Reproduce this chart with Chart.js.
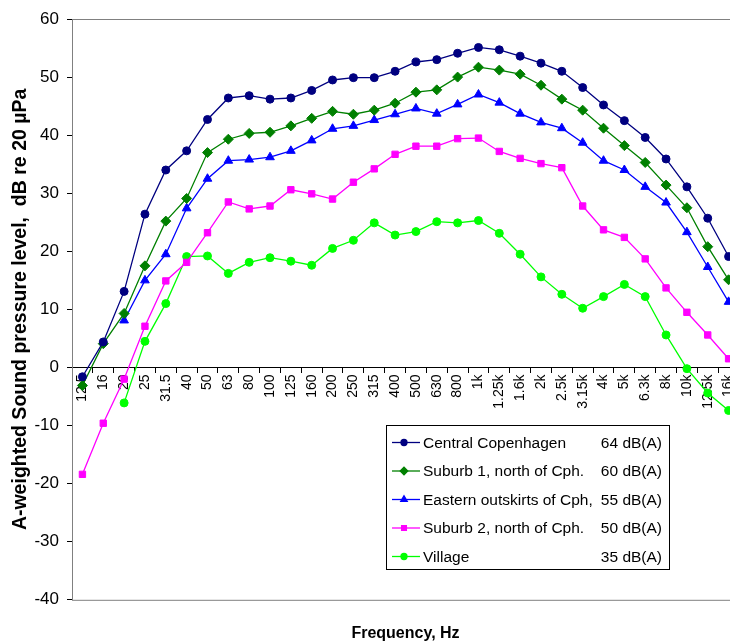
<!DOCTYPE html>
<html>
<head>
<meta charset="utf-8">
<script src="https://cdn.jsdelivr.net/npm/chart.js@4.4.1/dist/chart.umd.min.js"></script>
<style>
  html, body { margin: 0; padding: 0; background: #fff; overflow: hidden; }
  #wrap { width: 730px; height: 644px; overflow: hidden; }
</style>
</head>
<body>
<div id="wrap"><canvas id="noiseChart" width="745" height="644"></canvas></div>
<script>
const FONT = "'Liberation Sans', Arial, sans-serif";

// third-octave band centre frequencies
const freqLabels = ['12.5', '16', '20', '25', '31.5', '40', '50', '63', '80', '100', '125', '160',
    '200', '250', '315', '400', '500', '630', '800', '1k', '1.25k', '1.6k', '2k', '2.5k',
    '3.15k', '4k', '5k', '6.3k', '8k', '10k', '12.5k', '16k'];

const seriesNames = ['Central Copenhagen', 'Suburb 1, north of Cph.', 'Eastern outskirts of Cph,',
    'Suburb 2, north of Cph.', 'Village'];
const seriesLevels = ['64 dB(A)', '60 dB(A)', '55 dB(A)', '50 dB(A)', '35 dB(A)'];

const central = [-1.6, 4.4, 13.1, 26.4, 34.0, 37.3, 42.7, 46.4, 46.8, 46.2, 46.4, 47.7,
    49.5, 49.9, 49.9, 51.0, 52.6, 53.0, 54.1, 55.1, 54.7, 53.6, 52.4, 51.0,
    48.2, 45.2, 42.5, 39.6, 35.9, 31.1, 25.7, 19.1];
const suburb1 = [-3.1, 4.1, 9.3, 17.5, 25.2, 29.1, 37.0, 39.3, 40.3, 40.5, 41.6, 42.9,
    44.1, 43.6, 44.3, 45.5, 47.4, 47.8, 50.0, 51.7, 51.2, 50.5, 48.6, 46.2,
    44.3, 41.2, 38.2, 35.3, 31.4, 27.5, 20.8, 15.1];
const eastern = [null, null, 8.1, 15.0, 19.5, 27.4, 32.5, 35.6, 35.8, 36.2, 37.3, 39.1,
    41.1, 41.6, 42.6, 43.6, 44.6, 43.7, 45.3, 47.0, 45.6, 43.7, 42.2, 41.2,
    38.7, 35.6, 34.0, 31.1, 28.4, 23.3, 17.3, 11.3];
const suburb2 = [-18.4, -9.6, -2.0, 7.1, 14.9, 18.1, 23.2, 28.5, 27.3, 27.8, 30.6, 29.9,
    29.0, 31.9, 34.2, 36.7, 38.1, 38.1, 39.4, 39.5, 37.2, 36.0, 35.1, 34.4,
    27.8, 23.7, 22.4, 18.7, 13.7, 9.5, 5.6, 1.5];
const village = [null, null, -6.1, 4.5, 11.0, 19.1, 19.2, 16.2, 18.1, 18.9, 18.3, 17.6,
    20.5, 21.9, 24.9, 22.8, 23.4, 25.1, 24.9, 25.3, 23.1, 19.5, 15.6, 12.6,
    10.2, 12.2, 14.3, 12.2, 5.6, -0.2, -4.4, -7.4];

function series(i, values, color, style, radius) {
    return {
        label: seriesNames[i],
        level: seriesLevels[i],
        data: values,
        borderColor: color,
        backgroundColor: color,
        borderWidth: 1.3,
        pointStyle: style,
        pointRadius: radius,
        pointBorderWidth: 1,
        tension: 0,
        spanGaps: false,
    };
}

// gray frame round the plot area (right side runs off the picture)
const plotFrame = {
    id: 'plotFrame',
    beforeDatasetsDraw(chart) {
        const a = chart.chartArea, ctx = chart.ctx;
        ctx.save();
        ctx.strokeStyle = '#808080';
        ctx.lineWidth = 1;
        ctx.strokeRect(a.left + 0.5, a.top + 0.5, a.right - a.left, a.bottom - a.top);
        ctx.restore();
    }
};

// boxed legend with level column, like the original
const boxLegend = {
    id: 'boxLegend',
    afterDraw(chart) {
        const ctx = chart.ctx;
        const x0 = 386, y0 = 425, w = 283, h = 144, rowH = 28.5;
        ctx.save();
        ctx.fillStyle = '#fff';
        ctx.fillRect(x0, y0, w, h);
        ctx.strokeStyle = '#000';
        ctx.lineWidth = 1;
        ctx.strokeRect(x0 + 0.5, y0 + 0.5, w, h);
        ctx.font = '15.5px ' + FONT;
        ctx.textBaseline = 'middle';
        chart.data.datasets.forEach((ds, i) => {
            const y = y0 + 17.5 + i * rowH;
            ctx.strokeStyle = ds.borderColor;
            ctx.fillStyle = ds.backgroundColor;
            ctx.lineWidth = 1.3;
            ctx.beginPath();
            ctx.moveTo(x0 + 6, y);
            ctx.lineTo(x0 + 34, y);
            ctx.stroke();
            Chart.helpers.drawPoint(ctx, {pointStyle: ds.pointStyle, radius: ds.pointRadius * 0.75, borderWidth: 1, rotation: 0}, x0 + 18, y);
            ctx.fillStyle = '#000';
            ctx.textAlign = 'left';
            ctx.fillText(ds.label, x0 + 37, y + 1);
            ctx.textAlign = 'right';
            ctx.fillText(ds.level, x0 + w - 7, y + 1);
        });
        ctx.restore();
    }
};

new Chart(document.getElementById('noiseChart'), {
    type: 'line',
    data: {
        labels: freqLabels,
        datasets: [
            series(0, central, '#000080', 'circle', 4),
            series(1, suburb1, '#008000', 'rectRot', 5),
            series(2, eastern, '#0000FF', 'triangle', 5),
            series(3, suburb2, '#FF00FF', 'rect', 4.5),
            series(4, village, '#00FF00', 'circle', 4),
        ],
    },
    options: {
        responsive: false,
        animation: false,
        layout: { padding: { top: 19, right: 0, left: 0, bottom: 0 } },
        plugins: {
            legend: { display: false },
            tooltip: { enabled: false },
            title: {
                display: true,
                position: 'bottom',
                fullSize: false,
                text: 'Frequency, Hz',
                color: '#000',
                font: { family: FONT, size: 16, weight: 'bold' },
                padding: { top: 24, bottom: 1 },
            },
        },
        scales: {
            x: {
                type: 'category',
                position: { y: 0 },
                offset: true,
                grid: { display: true, drawOnChartArea: false, drawTicks: true, tickLength: 5, color: '#000', offset: true },
                border: { display: true, color: '#000' },
                ticks: {
                    autoSkip: false,
                    minRotation: 90,
                    maxRotation: 90,
                    padding: 2,
                    color: '#000',
                    font: { family: FONT, size: 14 },
                },
                afterFit(scale) { scale.paddingLeft = 0; scale.paddingRight = 0; },
            },
            y: {
                min: -40,
                max: 60,
                ticks: {
                    stepSize: 10,
                    padding: 8,
                    color: '#000',
                    font: { family: FONT, size: 17 },
                },
                grid: { display: true, drawOnChartArea: false, drawTicks: true, tickLength: 5, color: '#000' },
                border: { display: true, color: '#000' },
                title: {
                    display: true,
                    text: 'A-weighted Sound pressure level,  dB re 20 \u00b5Pa',
                    color: '#000',
                    font: { family: FONT, size: 19.5, weight: 'bold' },
                    padding: { top: 9, bottom: 0 },
                },
                afterFit(scale) { scale.width = 72; },
            },
        },
    },
    plugins: [plotFrame, boxLegend],
});
</script>
</body>
</html>
